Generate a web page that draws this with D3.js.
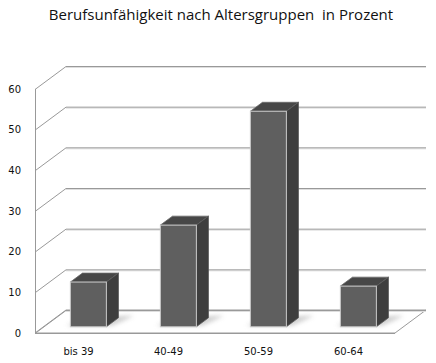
<!DOCTYPE html>
<html><head><meta charset="utf-8">
<script src="https://cdn.jsdelivr.net/npm/d3@7"></script>
<style>body{margin:0;background:#fff}svg{display:block}</style>
</head><body>
<script>
const categories = ["bis 39", "40-49", "50-59", "60-64"];
const values = [11, 25, 53, 10];
const yTicks = [0, 10, 20, 30, 40, 50, 60];
const title = "Berufsunfähigkeit nach Altersgruppen\u00a0 in Prozent";

const W = 436, H = 363;
const svg = d3.select("body").append("svg").attr("width", W).attr("height", H);

// 3D depth vector
const DX = 31, DY = -23;
const x = d3.scaleBand().domain(categories).range([35, 395]).paddingInner(0.6).paddingOuter(0.3);
const y = d3.scaleLinear().domain([0, 60]).range([333, 89]);
const P = (px, py, z) => [px + z * DX, py + z * DY];
const poly = pts => pts.map(p => p.join(",")).join(" ");

const defs = svg.append("defs");
const f = defs.append("filter").attr("id", "blur").attr("x", "-50%").attr("y", "-50%").attr("width", "200%").attr("height", "200%");
f.append("feGaussianBlur").attr("stdDeviation", 2.2);

// title
svg.append("text").attr("x", 221).attr("y", 20).attr("text-anchor", "middle")
  .attr("font-family", "Open Sans").attr("font-size", 15).attr("fill", "#111").text(title);

// floor
svg.append("polygon")
  .attr("points", poly([P(35, y(0), 0), P(395, y(0), 0), P(395, y(0), 1), P(35, y(0), 1)]))
  .attr("fill", "#fff").attr("stroke", "#9a9a9a").attr("stroke-width", 1);

// gridlines on back wall + left wall
const g = svg.append("g");
yTicks.forEach(t => {
  const a = P(35, y(t), 0), b = P(35, y(t), 1), c = P(395, y(t), 1);
  g.append("line").attr("x1", b[0]).attr("y1", b[1] + 1.5).attr("x2", c[0]).attr("y2", c[1] + 1.5)
    .attr("stroke", "#dedede").attr("stroke-width", 1);
  g.append("line").attr("x1", b[0]).attr("y1", b[1] + 0.5).attr("x2", c[0]).attr("y2", c[1] + 0.5)
    .attr("stroke", "#999").attr("stroke-width", 1);
  g.append("line").attr("x1", a[0]).attr("y1", a[1] + 0.5).attr("x2", b[0]).attr("y2", b[1] + 0.5)
    .attr("stroke", "#999").attr("stroke-width", 1);
});
// left vertical edge
svg.append("line").attr("x1", 35.5).attr("y1", y(60)).attr("x2", 35.5).attr("y2", y(0))
  .attr("stroke", "#999").attr("stroke-width", 1);
// front floor edge
svg.append("line").attr("x1", 35).attr("y1", y(0) + 0.5).attr("x2", 395).attr("y2", y(0) + 0.5)
  .attr("stroke", "#999").attr("stroke-width", 1);

// bars
const zf = 0.27, zb = 0.66;
const bars = svg.append("g");
categories.forEach((c, i) => {
  const x0 = x(c), x1 = x(c) + x.bandwidth();
  const v = values[i];
  // shadow
  bars.append("polygon")
    .attr("points", poly([P(x0 - 4, y(0) - 1, zf), P(x1 + 6, y(0) - 1, zf), P(x1 + 14, y(0) - 1, zb + 0.05), P(x0 + 4, y(0) - 1, zb)]))
    .attr("fill", "#c4c4c4").attr("filter", "url(#blur)").attr("opacity", 0.8);
  // top
  bars.append("polygon").attr("points", poly([P(x0, y(v), zf), P(x1, y(v), zf), P(x1, y(v), zb), P(x0, y(v), zb)]))
    .attr("fill", "#474747").attr("stroke", "#6a6a6a").attr("stroke-width", 0.8);
  // side
  bars.append("polygon").attr("points", poly([P(x1, y(v), zf), P(x1, y(0), zf), P(x1, y(0), zb), P(x1, y(v), zb)]))
    .attr("fill", "#3e3e3e").attr("stroke", "#5a5a5a").attr("stroke-width", 0.8);
  // front
  const fa = P(x0, y(v), zf), fb = P(x1, y(0), zf);
  bars.append("rect").attr("x", fa[0]).attr("y", fa[1]).attr("width", fb[0] - fa[0]).attr("height", fb[1] - fa[1])
    .attr("fill", "#5f5f5f").attr("stroke", "#c8c8c8").attr("stroke-width", 1);
});

// y labels
svg.append("g").selectAll("text").data(yTicks).join("text")
  .attr("x", 21).attr("y", d => y(d) + 3.5).attr("text-anchor", "end")
  .attr("font-family", "DejaVu Sans").attr("font-size", 10).attr("fill", "#111").text(d => d);

// category labels
svg.append("g").selectAll("text").data(categories).join("text")
  .attr("x", d => x(d) + x.bandwidth() / 2 - 1.5).attr("y", 355).attr("text-anchor", "middle")
  .attr("font-family", "DejaVu Sans").attr("font-size", 10).attr("fill", "#111").text(d => d);
</script>
</body></html>
